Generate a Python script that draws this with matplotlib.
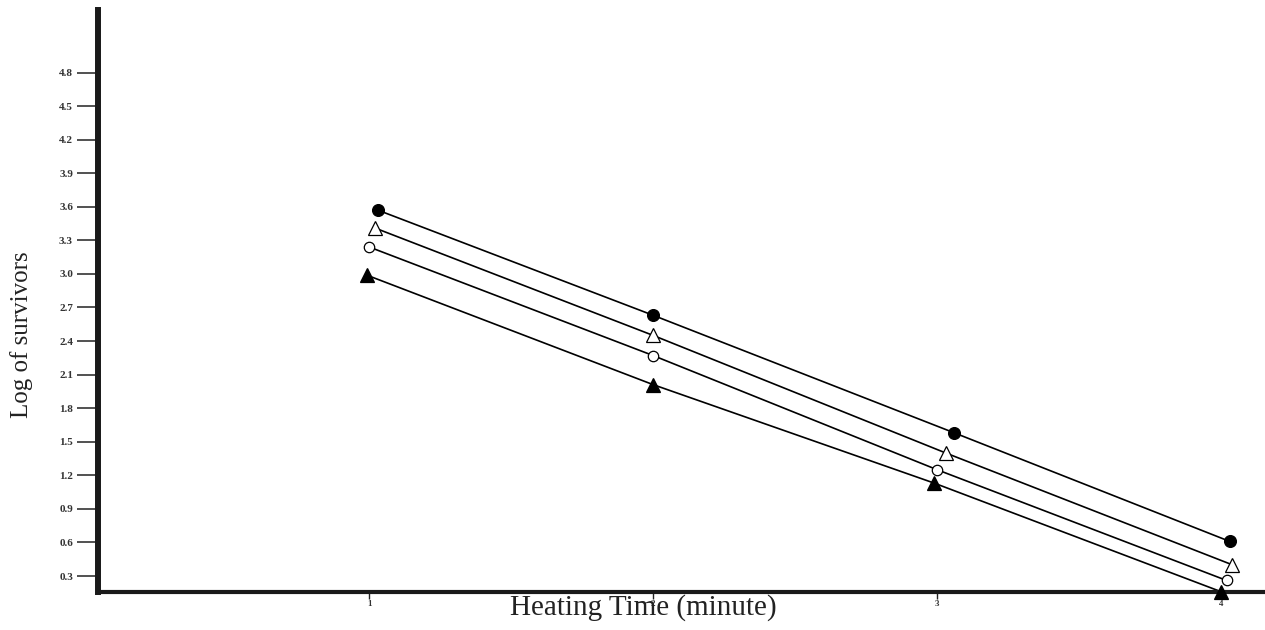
import matplotlib.pyplot as plt

# heating time (minute) and log of survivors
x_filled_circle = [1.03, 2.00, 3.06, 4.03]
y_filled_circle = [3.57, 2.63, 1.58, 0.61]

x_open_triangle = [1.02, 2.00, 3.03, 4.04]
y_open_triangle = [3.41, 2.45, 1.40, 0.40]

x_open_circle = [1.00, 2.00, 3.00, 4.02]
y_open_circle = [3.24, 2.27, 1.25, 0.26]

x_filled_triangle = [0.99, 2.00, 2.99, 4.00]
y_filled_triangle = [2.99, 2.01, 1.13, 0.16]

x_ticks = [1, 2, 3, 4]
y_ticks = [0.3, 0.6, 0.9, 1.2, 1.5, 1.8, 2.1, 2.4, 2.7, 3.0, 3.3, 3.6, 3.9, 4.2, 4.5, 4.8]

plt.rcParams['font.family'] = ['Liberation Serif', 'DejaVu Serif']

fig = plt.figure(figsize=(12.65, 6.3), dpi=100)
ax = fig.add_axes([0.0775, 0.0603, 0.9225, 0.924])

series = [
    (x_filled_circle, y_filled_circle, 'o', 'black', 8.5),
    (x_open_triangle, y_open_triangle, '^', 'white', 10.5),
    (x_open_circle, y_open_circle, 'o', 'white', 7.5),
    (x_filled_triangle, y_filled_triangle, '^', 'black', 10.5),
]
for xs, ys, m, fc, ms in series:
    ax.plot(xs, ys, color='black', linewidth=1.2, zorder=2)
    ax.plot(xs, ys, linestyle='none', marker=m, markersize=ms,
            markerfacecolor=fc, markeredgecolor='black', markeredgewidth=0.9,
            zorder=3, clip_on=False)

ax.set_xlim(0.044, 4.155)
ax.set_ylim(0.157, 5.36)

ax.spines['top'].set_visible(False)
ax.spines['right'].set_visible(False)
ax.spines['left'].set_linewidth(4.3)
ax.spines['bottom'].set_linewidth(3.0)
ax.spines['left'].set_color('#1a1a1a')
ax.spines['bottom'].set_color('#1a1a1a')

ax.set_yticks(y_ticks)
ax.set_yticklabels([f'{v:.1f}' for v in y_ticks], fontsize=8, fontweight='bold', color='#333333')
ax.tick_params(axis='y', direction='out', length=15, width=1.1, pad=3, color='#222222')

ax.set_xticks(x_ticks)
ax.set_xticklabels([str(v) for v in x_ticks], fontsize=6.5, fontweight='bold', color='#333333')
ax.tick_params(axis='x', direction='out', length=5, width=1.0, pad=0.5, color='#222222')

fig.text(643 / 1265, 1 - 608 / 630, 'Heating Time (minute)', fontsize=21,
         ha='center', va='center', color='#222222')
fig.text(22 / 1265, 1 - 335 / 630, 'Log of survivors', fontsize=18, rotation=90,
         ha='center', va='center', color='#222222')

fig.savefig('out.png', dpi=100)
